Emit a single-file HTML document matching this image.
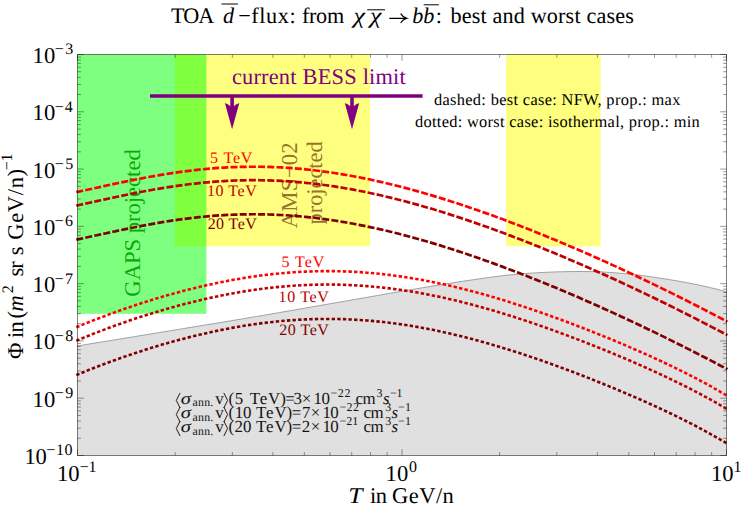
<!DOCTYPE html>
<html><head><meta charset="utf-8"><title>plot</title>
<style>html,body{margin:0;padding:0;background:#fff;overflow:hidden}svg text{font-family:"Liberation Serif",serif;white-space:pre;text-rendering:geometricPrecision}</style>
</head><body>
<svg width="742" height="509" viewBox="0 0 742 509" style="display:block">
<rect width="742" height="509" fill="#fff"/>
<path d="M77.00,346.00 L80.27,345.47 L83.53,344.94 L86.80,344.41 L90.07,343.87 L93.33,343.34 L96.60,342.81 L99.86,342.28 L103.13,341.75 L106.40,341.21 L109.66,340.68 L112.93,340.15 L116.20,339.61 L119.46,339.08 L122.73,338.55 L125.99,338.01 L129.26,337.48 L132.53,336.94 L135.79,336.41 L139.06,335.87 L142.33,335.34 L145.59,334.80 L148.86,334.27 L152.13,333.73 L155.39,333.20 L158.66,332.66 L161.92,332.13 L165.19,331.59 L168.46,331.05 L171.72,330.52 L174.99,329.98 L178.26,329.45 L181.52,328.91 L184.79,328.37 L188.06,327.84 L191.32,327.31 L194.59,326.77 L197.85,326.24 L201.12,325.70 L204.39,325.17 L207.65,324.63 L210.92,324.09 L214.19,323.56 L217.45,323.02 L220.72,322.48 L223.98,321.94 L227.25,321.40 L230.52,320.86 L233.78,320.32 L237.05,319.78 L240.32,319.23 L243.58,318.69 L246.85,318.14 L250.12,317.59 L253.38,317.04 L256.65,316.49 L259.91,315.94 L263.18,315.38 L266.45,314.82 L269.71,314.26 L272.98,313.70 L276.25,313.14 L279.51,312.58 L282.78,312.01 L286.05,311.45 L289.31,310.88 L292.58,310.31 L295.84,309.74 L299.11,309.17 L302.38,308.60 L305.64,308.03 L308.91,307.46 L312.18,306.89 L315.44,306.32 L318.71,305.75 L321.97,305.18 L325.24,304.61 L328.51,304.04 L331.77,303.47 L335.04,302.90 L338.31,302.33 L341.57,301.76 L344.84,301.19 L348.11,300.63 L351.37,300.06 L354.64,299.50 L357.90,298.93 L361.17,298.36 L364.44,297.79 L367.70,297.21 L370.97,296.64 L374.24,296.07 L377.50,295.50 L380.77,294.92 L384.04,294.35 L387.30,293.78 L390.57,293.21 L393.83,292.64 L397.10,292.07 L400.37,291.51 L403.63,290.94 L406.90,290.38 L410.17,289.82 L413.43,289.27 L416.70,288.71 L419.96,288.16 L423.23,287.62 L426.50,287.08 L429.76,286.54 L433.03,286.00 L436.30,285.47 L439.56,284.93 L442.83,284.40 L446.10,283.87 L449.36,283.35 L452.63,282.83 L455.89,282.32 L459.16,281.81 L462.43,281.32 L465.69,280.83 L468.96,280.35 L472.23,279.88 L475.49,279.40 L478.76,278.93 L482.03,278.45 L485.29,277.98 L488.56,277.52 L491.82,277.07 L495.09,276.63 L498.36,276.21 L501.62,275.81 L504.89,275.43 L508.16,275.08 L511.42,274.76 L514.69,274.46 L517.95,274.17 L521.22,273.89 L524.49,273.62 L527.75,273.37 L531.02,273.14 L534.29,272.93 L537.55,272.73 L540.82,272.56 L544.09,272.40 L547.35,272.24 L550.62,272.10 L553.88,271.98 L557.15,271.87 L560.42,271.79 L563.68,271.72 L566.95,271.65 L570.22,271.59 L573.48,271.54 L576.75,271.51 L580.02,271.50 L583.28,271.51 L586.55,271.55 L589.81,271.61 L593.08,271.67 L596.35,271.75 L599.61,271.86 L602.88,272.01 L606.15,272.20 L609.41,272.41 L612.68,272.64 L615.94,272.90 L619.21,273.17 L622.48,273.45 L625.74,273.74 L629.01,274.03 L632.28,274.34 L635.54,274.70 L638.81,275.09 L642.08,275.51 L645.34,275.95 L648.61,276.42 L651.87,276.90 L655.14,277.39 L658.41,277.89 L661.67,278.40 L664.94,278.90 L668.21,279.42 L671.47,279.96 L674.74,280.51 L678.01,281.08 L681.27,281.66 L684.54,282.26 L687.80,282.88 L691.07,283.51 L694.34,284.16 L697.60,284.82 L700.87,285.51 L704.14,286.22 L707.40,286.95 L710.67,287.71 L713.93,288.49 L717.20,289.29 L720.47,290.11 L723.73,290.95 L727.00,291.80 L726.5,455.5 L77.5,455.5 Z" fill="#e0e0e0"/>
<path d="M77.00,346.00 L80.27,345.47 L83.53,344.94 L86.80,344.41 L90.07,343.87 L93.33,343.34 L96.60,342.81 L99.86,342.28 L103.13,341.75 L106.40,341.21 L109.66,340.68 L112.93,340.15 L116.20,339.61 L119.46,339.08 L122.73,338.55 L125.99,338.01 L129.26,337.48 L132.53,336.94 L135.79,336.41 L139.06,335.87 L142.33,335.34 L145.59,334.80 L148.86,334.27 L152.13,333.73 L155.39,333.20 L158.66,332.66 L161.92,332.13 L165.19,331.59 L168.46,331.05 L171.72,330.52 L174.99,329.98 L178.26,329.45 L181.52,328.91 L184.79,328.37 L188.06,327.84 L191.32,327.31 L194.59,326.77 L197.85,326.24 L201.12,325.70 L204.39,325.17 L207.65,324.63 L210.92,324.09 L214.19,323.56 L217.45,323.02 L220.72,322.48 L223.98,321.94 L227.25,321.40 L230.52,320.86 L233.78,320.32 L237.05,319.78 L240.32,319.23 L243.58,318.69 L246.85,318.14 L250.12,317.59 L253.38,317.04 L256.65,316.49 L259.91,315.94 L263.18,315.38 L266.45,314.82 L269.71,314.26 L272.98,313.70 L276.25,313.14 L279.51,312.58 L282.78,312.01 L286.05,311.45 L289.31,310.88 L292.58,310.31 L295.84,309.74 L299.11,309.17 L302.38,308.60 L305.64,308.03 L308.91,307.46 L312.18,306.89 L315.44,306.32 L318.71,305.75 L321.97,305.18 L325.24,304.61 L328.51,304.04 L331.77,303.47 L335.04,302.90 L338.31,302.33 L341.57,301.76 L344.84,301.19 L348.11,300.63 L351.37,300.06 L354.64,299.50 L357.90,298.93 L361.17,298.36 L364.44,297.79 L367.70,297.21 L370.97,296.64 L374.24,296.07 L377.50,295.50 L380.77,294.92 L384.04,294.35 L387.30,293.78 L390.57,293.21 L393.83,292.64 L397.10,292.07 L400.37,291.51 L403.63,290.94 L406.90,290.38 L410.17,289.82 L413.43,289.27 L416.70,288.71 L419.96,288.16 L423.23,287.62 L426.50,287.08 L429.76,286.54 L433.03,286.00 L436.30,285.47 L439.56,284.93 L442.83,284.40 L446.10,283.87 L449.36,283.35 L452.63,282.83 L455.89,282.32 L459.16,281.81 L462.43,281.32 L465.69,280.83 L468.96,280.35 L472.23,279.88 L475.49,279.40 L478.76,278.93 L482.03,278.45 L485.29,277.98 L488.56,277.52 L491.82,277.07 L495.09,276.63 L498.36,276.21 L501.62,275.81 L504.89,275.43 L508.16,275.08 L511.42,274.76 L514.69,274.46 L517.95,274.17 L521.22,273.89 L524.49,273.62 L527.75,273.37 L531.02,273.14 L534.29,272.93 L537.55,272.73 L540.82,272.56 L544.09,272.40 L547.35,272.24 L550.62,272.10 L553.88,271.98 L557.15,271.87 L560.42,271.79 L563.68,271.72 L566.95,271.65 L570.22,271.59 L573.48,271.54 L576.75,271.51 L580.02,271.50 L583.28,271.51 L586.55,271.55 L589.81,271.61 L593.08,271.67 L596.35,271.75 L599.61,271.86 L602.88,272.01 L606.15,272.20 L609.41,272.41 L612.68,272.64 L615.94,272.90 L619.21,273.17 L622.48,273.45 L625.74,273.74 L629.01,274.03 L632.28,274.34 L635.54,274.70 L638.81,275.09 L642.08,275.51 L645.34,275.95 L648.61,276.42 L651.87,276.90 L655.14,277.39 L658.41,277.89 L661.67,278.40 L664.94,278.90 L668.21,279.42 L671.47,279.96 L674.74,280.51 L678.01,281.08 L681.27,281.66 L684.54,282.26 L687.80,282.88 L691.07,283.51 L694.34,284.16 L697.60,284.82 L700.87,285.51 L704.14,286.22 L707.40,286.95 L710.67,287.71 L713.93,288.49 L717.20,289.29 L720.47,290.11 L723.73,290.95 L727.00,291.80" fill="none" stroke="#8c8c8c" stroke-width="0.8"/>
<rect x="174.8" y="54.5" width="195.3" height="191.8" fill="#ffff00" fill-opacity="0.5"/>
<rect x="506.1" y="54.5" width="94.5" height="191.8" fill="#ffff00" fill-opacity="0.5"/>
<rect x="77.5" y="54.5" width="128.9" height="259.3" fill="#00ff00" fill-opacity="0.5"/>
<text transform="translate(139.90,296.68) rotate(-90)" font-size="22.60" letter-spacing="-0.006" fill="#00a600" fill-opacity="0.95">GAPS projected</text>
<text transform="translate(297.00,228.25) rotate(-90)" font-size="22.80" letter-spacing="0.155" fill="#7a4a20" fill-opacity="0.8">AMS−02</text>
<text transform="translate(321.60,224.47) rotate(-90)" font-size="22.40" letter-spacing="-0.019" fill="#7a4a20" fill-opacity="0.8">projected</text>
<path d="M76.30,192.15 L80.39,191.27 L84.49,190.39 L88.58,189.50 L92.68,188.61 L96.77,187.71 L100.87,186.82 L104.96,185.93 L109.06,185.04 L113.15,184.16 L117.25,183.29 L121.34,182.43 L125.44,181.57 L129.53,180.74 L133.63,179.91 L137.72,179.10 L141.82,178.31 L145.91,177.54 L150.01,176.79 L154.10,176.05 L158.20,175.34 L162.29,174.66 L166.39,173.99 L170.48,173.35 L174.58,172.74 L178.67,172.15 L182.77,171.59 L186.86,171.06 L190.96,170.56 L195.05,170.08 L199.15,169.64 L203.24,169.22 L207.34,168.84 L211.43,168.49 L215.53,168.17 L219.62,167.88 L223.72,167.62 L227.81,167.39 L231.91,167.20 L236.00,167.04 L240.10,166.91 L244.19,166.82 L248.29,166.75 L252.38,166.73 L256.48,166.73 L260.57,166.77 L264.67,166.84 L268.76,166.94 L272.86,167.08 L276.95,167.25 L281.05,167.45 L285.14,167.69 L289.24,167.96 L293.33,168.26 L297.43,168.59 L301.52,168.96 L305.62,169.35 L309.71,169.78 L313.81,170.24 L317.90,170.73 L322.00,171.25 L326.09,171.80 L330.19,172.38 L334.28,172.99 L338.38,173.63 L342.47,174.30 L346.57,175.00 L350.66,175.72 L354.76,176.48 L358.85,177.26 L362.95,178.07 L367.04,178.91 L371.14,179.77 L375.23,180.66 L379.33,181.57 L383.42,182.51 L387.52,183.47 L391.61,184.46 L395.71,185.48 L399.80,186.51 L403.90,187.57 L407.99,188.66 L412.09,189.76 L416.18,190.89 L420.28,192.04 L424.37,193.21 L428.47,194.41 L432.56,195.62 L436.66,196.85 L440.75,198.11 L444.85,199.38 L448.94,200.67 L453.04,201.99 L457.13,203.32 L461.23,204.67 L465.32,206.03 L469.42,207.42 L473.51,208.82 L477.61,210.24 L481.70,211.67 L485.80,213.12 L489.89,214.59 L493.99,216.08 L498.08,217.58 L502.18,219.09 L506.27,220.62 L510.37,222.17 L514.46,223.73 L518.56,225.30 L522.65,226.89 L526.75,228.49 L530.84,230.11 L534.94,231.74 L539.03,233.38 L543.13,235.04 L547.22,236.71 L551.32,238.39 L555.41,240.09 L559.51,241.80 L563.60,243.52 L567.70,245.25 L571.79,247.00 L575.89,248.75 L579.98,250.52 L584.08,252.31 L588.17,254.10 L592.27,255.90 L596.36,257.72 L600.46,259.55 L604.55,261.39 L608.65,263.24 L612.74,265.11 L616.84,266.98 L620.93,268.87 L625.03,270.77 L629.12,272.67 L633.22,274.59 L637.31,276.53 L641.41,278.47 L645.50,280.42 L649.60,282.39 L653.69,284.36 L657.79,286.35 L661.88,288.34 L665.98,290.35 L670.07,292.37 L674.17,294.40 L678.26,296.44 L682.36,298.49 L686.45,300.55 L690.55,302.62 L694.64,304.70 L698.74,306.80 L702.83,308.90 L706.93,311.01 L711.02,313.13 L715.12,315.26 L719.21,317.41 L723.31,319.56 L727.40,321.72" fill="none" stroke="#ff0000" stroke-width="2.7" stroke-dasharray="7,2.2"/>
<path d="M76.30,205.61 L80.39,204.73 L84.49,203.85 L88.58,202.96 L92.68,202.07 L96.77,201.18 L100.87,200.28 L104.96,199.39 L109.06,198.50 L113.15,197.62 L117.25,196.75 L121.34,195.89 L125.44,195.04 L129.53,194.20 L133.63,193.37 L137.72,192.57 L141.82,191.77 L145.91,191.00 L150.01,190.25 L154.10,189.52 L158.20,188.81 L162.29,188.12 L166.39,187.45 L170.48,186.82 L174.58,186.20 L178.67,185.62 L182.77,185.06 L186.86,184.52 L190.96,184.02 L195.05,183.55 L199.15,183.10 L203.24,182.69 L207.34,182.30 L211.43,181.95 L215.53,181.63 L219.62,181.34 L223.72,181.08 L227.81,180.85 L231.91,180.66 L236.00,180.50 L240.10,180.37 L244.19,180.28 L248.29,180.22 L252.38,180.19 L256.48,180.19 L260.57,180.23 L264.67,180.30 L268.76,180.40 L272.86,180.54 L276.95,180.71 L281.05,180.92 L285.14,181.15 L289.24,181.42 L293.33,181.72 L297.43,182.05 L301.52,182.42 L305.62,182.81 L309.71,183.24 L313.81,183.70 L317.90,184.19 L322.00,184.71 L326.09,185.26 L330.19,185.84 L334.28,186.45 L338.38,187.09 L342.47,187.76 L346.57,188.46 L350.66,189.19 L354.76,189.94 L358.85,190.72 L362.95,191.53 L367.04,192.37 L371.14,193.23 L375.23,194.12 L379.33,195.03 L383.42,195.97 L387.52,196.94 L391.61,197.93 L395.71,198.94 L399.80,199.98 L403.90,201.04 L407.99,202.12 L412.09,203.23 L416.18,204.35 L420.28,205.50 L424.37,206.68 L428.47,207.87 L432.56,209.08 L436.66,210.32 L440.75,211.57 L444.85,212.84 L448.94,214.14 L453.04,215.45 L457.13,216.78 L461.23,218.13 L465.32,219.49 L469.42,220.88 L473.51,222.28 L477.61,223.70 L481.70,225.13 L485.80,226.59 L489.89,228.05 L493.99,229.54 L498.08,231.04 L502.18,232.55 L506.27,234.08 L510.37,235.63 L514.46,237.19 L518.56,238.76 L522.65,240.35 L526.75,241.95 L530.84,243.57 L534.94,245.20 L539.03,246.84 L543.13,248.50 L547.22,250.17 L551.32,251.85 L555.41,253.55 L559.51,255.26 L563.60,256.98 L567.70,258.71 L571.79,260.46 L575.89,262.22 L579.98,263.99 L584.08,265.77 L588.17,267.56 L592.27,269.37 L596.36,271.18 L600.46,273.01 L604.55,274.85 L608.65,276.71 L612.74,278.57 L616.84,280.44 L620.93,282.33 L625.03,284.23 L629.12,286.14 L633.22,288.06 L637.31,289.99 L641.41,291.93 L645.50,293.88 L649.60,295.85 L653.69,297.82 L657.79,299.81 L661.88,301.81 L665.98,303.81 L670.07,305.83 L674.17,307.86 L678.26,309.90 L682.36,311.95 L686.45,314.01 L690.55,316.08 L694.64,318.17 L698.74,320.26 L702.83,322.36 L706.93,324.47 L711.02,326.59 L715.12,328.73 L719.21,330.87 L723.31,333.02 L727.40,335.18" fill="none" stroke="#c00000" stroke-width="2.7" stroke-dasharray="7,2.2"/>
<path d="M76.30,239.68 L80.39,238.81 L84.49,237.93 L88.58,237.04 L92.68,236.14 L96.77,235.25 L100.87,234.36 L104.96,233.47 L109.06,232.58 L113.15,231.70 L117.25,230.83 L121.34,229.96 L125.44,229.11 L129.53,228.27 L133.63,227.45 L137.72,226.64 L141.82,225.85 L145.91,225.08 L150.01,224.32 L154.10,223.59 L158.20,222.88 L162.29,222.19 L166.39,221.53 L170.48,220.89 L174.58,220.28 L178.67,219.69 L182.77,219.13 L186.86,218.60 L190.96,218.09 L195.05,217.62 L199.15,217.18 L203.24,216.76 L207.34,216.38 L211.43,216.02 L215.53,215.70 L219.62,215.41 L223.72,215.15 L227.81,214.93 L231.91,214.74 L236.00,214.57 L240.10,214.45 L244.19,214.35 L248.29,214.29 L252.38,214.26 L256.48,214.27 L260.57,214.30 L264.67,214.38 L268.76,214.48 L272.86,214.62 L276.95,214.79 L281.05,214.99 L285.14,215.23 L289.24,215.49 L293.33,215.79 L297.43,216.13 L301.52,216.49 L305.62,216.89 L309.71,217.32 L313.81,217.78 L317.90,218.27 L322.00,218.79 L326.09,219.34 L330.19,219.92 L334.28,220.53 L338.38,221.17 L342.47,221.84 L346.57,222.54 L350.66,223.26 L354.76,224.02 L358.85,224.80 L362.95,225.61 L367.04,226.44 L371.14,227.31 L375.23,228.19 L379.33,229.11 L383.42,230.05 L387.52,231.01 L391.61,232.00 L395.71,233.01 L399.80,234.05 L403.90,235.11 L407.99,236.19 L412.09,237.30 L416.18,238.43 L420.28,239.58 L424.37,240.75 L428.47,241.94 L432.56,243.16 L436.66,244.39 L440.75,245.64 L444.85,246.92 L448.94,248.21 L453.04,249.52 L457.13,250.85 L461.23,252.20 L465.32,253.57 L469.42,254.95 L473.51,256.35 L477.61,257.77 L481.70,259.21 L485.80,260.66 L489.89,262.13 L493.99,263.61 L498.08,265.11 L502.18,266.63 L506.27,268.16 L510.37,269.70 L514.46,271.26 L518.56,272.84 L522.65,274.43 L526.75,276.03 L530.84,277.65 L534.94,279.28 L539.03,280.92 L543.13,282.58 L547.22,284.25 L551.32,285.93 L555.41,287.62 L559.51,289.33 L563.60,291.05 L567.70,292.79 L571.79,294.53 L575.89,296.29 L579.98,298.06 L584.08,299.84 L588.17,301.64 L592.27,303.44 L596.36,305.26 L600.46,307.09 L604.55,308.93 L608.65,310.78 L612.74,312.64 L616.84,314.52 L620.93,316.41 L625.03,318.30 L629.12,320.21 L633.22,322.13 L637.31,324.06 L641.41,326.01 L645.50,327.96 L649.60,329.92 L653.69,331.90 L657.79,333.88 L661.88,335.88 L665.98,337.89 L670.07,339.91 L674.17,341.94 L678.26,343.98 L682.36,346.03 L686.45,348.09 L690.55,350.16 L694.64,352.24 L698.74,354.33 L702.83,356.44 L706.93,358.55 L711.02,360.67 L715.12,362.80 L719.21,364.94 L723.31,367.09 L727.40,369.25" fill="none" stroke="#800000" stroke-width="2.7" stroke-dasharray="7,2.2"/>
<path d="M76.30,327.28 L80.39,325.58 L84.49,323.91 L88.58,322.26 L92.68,320.64 L96.77,319.04 L100.87,317.47 L104.96,315.93 L109.06,314.40 L113.15,312.91 L117.25,311.43 L121.34,309.98 L125.44,308.56 L129.53,307.15 L133.63,305.77 L137.72,304.42 L141.82,303.08 L145.91,301.78 L150.01,300.49 L154.10,299.23 L158.20,297.99 L162.29,296.78 L166.39,295.59 L170.48,294.43 L174.58,293.29 L178.67,292.18 L182.77,291.09 L186.86,290.02 L190.96,288.99 L195.05,287.97 L199.15,286.99 L203.24,286.03 L207.34,285.10 L211.43,284.20 L215.53,283.32 L219.62,282.47 L223.72,281.65 L227.81,280.86 L231.91,280.09 L236.00,279.36 L240.10,278.66 L244.19,277.98 L248.29,277.34 L252.38,276.72 L256.48,276.14 L260.57,275.58 L264.67,275.06 L268.76,274.57 L272.86,274.11 L276.95,273.69 L281.05,273.29 L285.14,272.93 L289.24,272.60 L293.33,272.31 L297.43,272.04 L301.52,271.81 L305.62,271.62 L309.71,271.45 L313.81,271.32 L317.90,271.22 L322.00,271.16 L326.09,271.13 L330.19,271.14 L334.28,271.17 L338.38,271.25 L342.47,271.35 L346.57,271.49 L350.66,271.67 L354.76,271.87 L358.85,272.11 L362.95,272.39 L367.04,272.70 L371.14,273.04 L375.23,273.41 L379.33,273.82 L383.42,274.26 L387.52,274.73 L391.61,275.23 L395.71,275.77 L399.80,276.34 L403.90,276.94 L407.99,277.57 L412.09,278.23 L416.18,278.92 L420.28,279.65 L424.37,280.40 L428.47,281.18 L432.56,281.99 L436.66,282.83 L440.75,283.70 L444.85,284.60 L448.94,285.52 L453.04,286.47 L457.13,287.45 L461.23,288.45 L465.32,289.48 L469.42,290.54 L473.51,291.62 L477.61,292.72 L481.70,293.85 L485.80,295.00 L489.89,296.17 L493.99,297.37 L498.08,298.59 L502.18,299.83 L506.27,301.09 L510.37,302.37 L514.46,303.67 L518.56,304.99 L522.65,306.33 L526.75,307.69 L530.84,309.07 L534.94,310.47 L539.03,311.88 L543.13,313.31 L547.22,314.76 L551.32,316.22 L555.41,317.70 L559.51,319.20 L563.60,320.71 L567.70,322.23 L571.79,323.77 L575.89,325.33 L579.98,326.90 L584.08,328.49 L588.17,330.09 L592.27,331.70 L596.36,333.33 L600.46,334.98 L604.55,336.63 L608.65,338.31 L612.74,339.99 L616.84,341.70 L620.93,343.42 L625.03,345.15 L629.12,346.90 L633.22,348.67 L637.31,350.45 L641.41,352.25 L645.50,354.07 L649.60,355.91 L653.69,357.77 L657.79,359.65 L661.88,361.55 L665.98,363.47 L670.07,365.42 L674.17,367.39 L678.26,369.38 L682.36,371.41 L686.45,373.46 L690.55,375.54 L694.64,377.66 L698.74,379.80 L702.83,381.99 L706.93,384.21 L711.02,386.47 L715.12,388.77 L719.21,391.11 L723.31,393.50 L727.40,395.94" fill="none" stroke="#ff0000" stroke-width="2.6" stroke-dasharray="3.4,2.2"/>
<path d="M76.30,340.70 L80.39,339.00 L84.49,337.33 L88.58,335.68 L92.68,334.06 L96.77,332.47 L100.87,330.89 L104.96,329.35 L109.06,327.83 L113.15,326.33 L117.25,324.85 L121.34,323.40 L125.44,321.98 L129.53,320.57 L133.63,319.19 L137.72,317.84 L141.82,316.51 L145.91,315.20 L150.01,313.91 L154.10,312.65 L158.20,311.41 L162.29,310.20 L166.39,309.01 L170.48,307.85 L174.58,306.71 L178.67,305.60 L182.77,304.51 L186.86,303.44 L190.96,302.41 L195.05,301.40 L199.15,300.41 L203.24,299.45 L207.34,298.52 L211.43,297.62 L215.53,296.74 L219.62,295.89 L223.72,295.07 L227.81,294.28 L231.91,293.51 L236.00,292.78 L240.10,292.08 L244.19,291.40 L248.29,290.76 L252.38,290.14 L256.48,289.56 L260.57,289.01 L264.67,288.48 L268.76,287.99 L272.86,287.54 L276.95,287.11 L281.05,286.71 L285.14,286.35 L289.24,286.02 L293.33,285.73 L297.43,285.46 L301.52,285.23 L305.62,285.04 L309.71,284.87 L313.81,284.74 L317.90,284.65 L322.00,284.58 L326.09,284.55 L330.19,284.56 L334.28,284.60 L338.38,284.67 L342.47,284.77 L346.57,284.91 L350.66,285.09 L354.76,285.29 L358.85,285.54 L362.95,285.81 L367.04,286.12 L371.14,286.46 L375.23,286.83 L379.33,287.24 L383.42,287.68 L387.52,288.15 L391.61,288.66 L395.71,289.19 L399.80,289.76 L403.90,290.36 L407.99,290.99 L412.09,291.65 L416.18,292.34 L420.28,293.07 L424.37,293.82 L428.47,294.60 L432.56,295.41 L436.66,296.25 L440.75,297.12 L444.85,298.02 L448.94,298.94 L453.04,299.89 L457.13,300.87 L461.23,301.87 L465.32,302.90 L469.42,303.96 L473.51,305.04 L477.61,306.14 L481.70,307.27 L485.80,308.42 L489.89,309.60 L493.99,310.79 L498.08,312.01 L502.18,313.25 L506.27,314.51 L510.37,315.79 L514.46,317.09 L518.56,318.42 L522.65,319.76 L526.75,321.12 L530.84,322.49 L534.94,323.89 L539.03,325.30 L543.13,326.73 L547.22,328.18 L551.32,329.64 L555.41,331.12 L559.51,332.62 L563.60,334.13 L567.70,335.65 L571.79,337.20 L575.89,338.75 L579.98,340.32 L584.08,341.91 L588.17,343.51 L592.27,345.12 L596.36,346.75 L600.46,348.40 L604.55,350.05 L608.65,351.73 L612.74,353.42 L616.84,355.12 L620.93,356.84 L625.03,358.57 L629.12,360.32 L633.22,362.09 L637.31,363.87 L641.41,365.67 L645.50,367.49 L649.60,369.33 L653.69,371.19 L657.79,373.07 L661.88,374.97 L665.98,376.89 L670.07,378.84 L674.17,380.81 L678.26,382.80 L682.36,384.83 L686.45,386.88 L690.55,388.96 L694.64,391.08 L698.74,393.22 L702.83,395.41 L706.93,397.63 L711.02,399.89 L715.12,402.19 L719.21,404.53 L723.31,406.93 L727.40,409.37" fill="none" stroke="#c00000" stroke-width="2.6" stroke-dasharray="3.4,2.2"/>
<path d="M76.30,375.09 L80.39,373.39 L84.49,371.72 L88.58,370.07 L92.68,368.45 L96.77,366.85 L100.87,365.28 L104.96,363.74 L109.06,362.21 L113.15,360.72 L117.25,359.24 L121.34,357.79 L125.44,356.36 L129.53,354.96 L133.63,353.58 L137.72,352.23 L141.82,350.89 L145.91,349.59 L150.01,348.30 L154.10,347.04 L158.20,345.80 L162.29,344.59 L166.39,343.40 L170.48,342.24 L174.58,341.10 L178.67,339.98 L182.77,338.90 L186.86,337.83 L190.96,336.79 L195.05,335.78 L199.15,334.80 L203.24,333.84 L207.34,332.91 L211.43,332.00 L215.53,331.13 L219.62,330.28 L223.72,329.46 L227.81,328.67 L231.91,327.90 L236.00,327.17 L240.10,326.46 L244.19,325.79 L248.29,325.14 L252.38,324.53 L256.48,323.95 L260.57,323.39 L264.67,322.87 L268.76,322.38 L272.86,321.92 L276.95,321.50 L281.05,321.10 L285.14,320.74 L289.24,320.41 L293.33,320.11 L297.43,319.85 L301.52,319.62 L305.62,319.42 L309.71,319.26 L313.81,319.13 L317.90,319.03 L322.00,318.97 L326.09,318.94 L330.19,318.95 L334.28,318.98 L338.38,319.06 L342.47,319.16 L346.57,319.30 L350.66,319.48 L354.76,319.68 L358.85,319.92 L362.95,320.20 L367.04,320.50 L371.14,320.85 L375.23,321.22 L379.33,321.63 L383.42,322.07 L387.52,322.54 L391.61,323.04 L395.71,323.58 L399.80,324.15 L403.90,324.75 L407.99,325.38 L412.09,326.04 L416.18,326.73 L420.28,327.45 L424.37,328.21 L428.47,328.99 L432.56,329.80 L436.66,330.64 L440.75,331.51 L444.85,332.41 L448.94,333.33 L453.04,334.28 L457.13,335.26 L461.23,336.26 L465.32,337.29 L469.42,338.35 L473.51,339.43 L477.61,340.53 L481.70,341.66 L485.80,342.81 L489.89,343.98 L493.99,345.18 L498.08,346.40 L502.18,347.64 L506.27,348.90 L510.37,350.18 L514.46,351.48 L518.56,352.80 L522.65,354.14 L526.75,355.50 L530.84,356.88 L534.94,358.28 L539.03,359.69 L543.13,361.12 L547.22,362.57 L551.32,364.03 L555.41,365.51 L559.51,367.00 L563.60,368.52 L567.70,370.04 L571.79,371.58 L575.89,373.14 L579.98,374.71 L584.08,376.30 L588.17,377.90 L592.27,379.51 L596.36,381.14 L600.46,382.78 L604.55,384.44 L608.65,386.12 L612.74,387.80 L616.84,389.51 L620.93,391.22 L625.03,392.96 L629.12,394.71 L633.22,396.48 L637.31,398.26 L641.41,400.06 L645.50,401.88 L649.60,403.72 L653.69,405.58 L657.79,407.46 L661.88,409.36 L665.98,411.28 L670.07,413.22 L674.17,415.19 L678.26,417.19 L682.36,419.21 L686.45,421.27 L690.55,423.35 L694.64,425.46 L698.74,427.61 L702.83,429.80 L706.93,432.02 L711.02,434.28 L715.12,436.58 L719.21,438.92 L723.31,441.31 L727.40,443.75" fill="none" stroke="#800000" stroke-width="2.6" stroke-dasharray="3.4,2.2"/>
<text x="210.12" y="162.50" font-size="16.00" letter-spacing="0.812" fill="#ff0000">5 TeV</text>
<text x="206.93" y="196.20" font-size="16.00" letter-spacing="0.550" fill="#c00000">10 TeV</text>
<text x="207.68" y="229.40" font-size="16.00" letter-spacing="0.400" fill="#800000">20 TeV</text>
<text x="281.52" y="267.10" font-size="16.00" letter-spacing="0.938" fill="#ff0000">5 TeV</text>
<text x="278.52" y="301.50" font-size="16.00" letter-spacing="0.650" fill="#c00000">10 TeV</text>
<text x="279.27" y="334.70" font-size="16.00" letter-spacing="0.500" fill="#800000">20 TeV</text>
<line x1="150" y1="96" x2="422.6" y2="96" stroke="#800080" stroke-width="3.7"/>
<line x1="232.1" y1="96" x2="232.1" y2="108" stroke="#800080" stroke-width="3.6"/>
<path d="M232.10,129.2 L224.90,102.9 Q228.70,104.3 230.40,106.2 L233.80,106.2 Q235.50,104.3 239.30,102.9 Z" fill="#800080"/>
<line x1="352.0" y1="96" x2="352.0" y2="108" stroke="#800080" stroke-width="3.6"/>
<path d="M352.00,129.2 L344.80,102.9 Q348.60,104.3 350.30,106.2 L353.70,106.2 Q355.40,104.3 359.20,102.9 Z" fill="#800080"/>
<text x="231.88" y="83.70" font-size="22.40" letter-spacing="0.203" fill="#800080">current BESS limit</text>
<text x="433.90" y="104.70" font-size="16.40" letter-spacing="0.327" fill="#000">dashed: best case: NFW, prop.: max</text>
<text x="415.00" y="126.50" font-size="16.40" letter-spacing="0.295" fill="#000">dotted: worst case: isothermal, prop.: min</text>
<rect x="77.5" y="54.5" width="649" height="401" fill="none" stroke="#000" stroke-opacity="0.5" stroke-width="1"/>
<path d="M77.50,455.5 v-6.3 M77.50,54.5 v6.3 M175.18,455.5 v-3.4 M175.18,54.5 v3.4 M232.33,455.5 v-3.4 M232.33,54.5 v3.4 M272.87,455.5 v-3.4 M272.87,54.5 v3.4 M304.32,455.5 v-3.4 M304.32,54.5 v3.4 M330.01,455.5 v-3.4 M330.01,54.5 v3.4 M351.73,455.5 v-3.4 M351.73,54.5 v3.4 M370.55,455.5 v-3.4 M370.55,54.5 v3.4 M387.15,455.5 v-3.4 M387.15,54.5 v3.4 M402.00,455.5 v-6.3 M402.00,54.5 v6.3 M499.68,455.5 v-3.4 M499.68,54.5 v3.4 M556.83,455.5 v-3.4 M556.83,54.5 v3.4 M597.37,455.5 v-3.4 M597.37,54.5 v3.4 M628.82,455.5 v-3.4 M628.82,54.5 v3.4 M654.51,455.5 v-3.4 M654.51,54.5 v3.4 M676.23,455.5 v-3.4 M676.23,54.5 v3.4 M695.05,455.5 v-3.4 M695.05,54.5 v3.4 M711.65,455.5 v-3.4 M711.65,54.5 v3.4 M726.50,455.5 v-6.3 M726.50,54.5 v6.3 M77.5,455.50 h6.3 M726.5,455.50 h-6.3 M77.5,438.26 h3.4 M726.5,438.26 h-3.4 M77.5,428.17 h3.4 M726.5,428.17 h-3.4 M77.5,421.01 h3.4 M726.5,421.01 h-3.4 M77.5,415.46 h3.4 M726.5,415.46 h-3.4 M77.5,410.92 h3.4 M726.5,410.92 h-3.4 M77.5,407.09 h3.4 M726.5,407.09 h-3.4 M77.5,403.77 h3.4 M726.5,403.77 h-3.4 M77.5,400.84 h3.4 M726.5,400.84 h-3.4 M77.5,398.21 h6.3 M726.5,398.21 h-6.3 M77.5,380.97 h3.4 M726.5,380.97 h-3.4 M77.5,370.88 h3.4 M726.5,370.88 h-3.4 M77.5,363.72 h3.4 M726.5,363.72 h-3.4 M77.5,358.17 h3.4 M726.5,358.17 h-3.4 M77.5,353.64 h3.4 M726.5,353.64 h-3.4 M77.5,349.80 h3.4 M726.5,349.80 h-3.4 M77.5,346.48 h3.4 M726.5,346.48 h-3.4 M77.5,343.55 h3.4 M726.5,343.55 h-3.4 M77.5,340.93 h6.3 M726.5,340.93 h-6.3 M77.5,323.68 h3.4 M726.5,323.68 h-3.4 M77.5,313.60 h3.4 M726.5,313.60 h-3.4 M77.5,306.44 h3.4 M726.5,306.44 h-3.4 M77.5,300.89 h3.4 M726.5,300.89 h-3.4 M77.5,296.35 h3.4 M726.5,296.35 h-3.4 M77.5,292.52 h3.4 M726.5,292.52 h-3.4 M77.5,289.19 h3.4 M726.5,289.19 h-3.4 M77.5,286.26 h3.4 M726.5,286.26 h-3.4 M77.5,283.64 h6.3 M726.5,283.64 h-6.3 M77.5,266.40 h3.4 M726.5,266.40 h-3.4 M77.5,256.31 h3.4 M726.5,256.31 h-3.4 M77.5,249.15 h3.4 M726.5,249.15 h-3.4 M77.5,243.60 h3.4 M726.5,243.60 h-3.4 M77.5,239.07 h3.4 M726.5,239.07 h-3.4 M77.5,235.23 h3.4 M726.5,235.23 h-3.4 M77.5,231.91 h3.4 M726.5,231.91 h-3.4 M77.5,228.98 h3.4 M726.5,228.98 h-3.4 M77.5,226.36 h6.3 M726.5,226.36 h-6.3 M77.5,209.11 h3.4 M726.5,209.11 h-3.4 M77.5,199.02 h3.4 M726.5,199.02 h-3.4 M77.5,191.87 h3.4 M726.5,191.87 h-3.4 M77.5,186.32 h3.4 M726.5,186.32 h-3.4 M77.5,181.78 h3.4 M726.5,181.78 h-3.4 M77.5,177.95 h3.4 M726.5,177.95 h-3.4 M77.5,174.62 h3.4 M726.5,174.62 h-3.4 M77.5,171.69 h3.4 M726.5,171.69 h-3.4 M77.5,169.07 h6.3 M726.5,169.07 h-6.3 M77.5,151.83 h3.4 M726.5,151.83 h-3.4 M77.5,141.74 h3.4 M726.5,141.74 h-3.4 M77.5,134.58 h3.4 M726.5,134.58 h-3.4 M77.5,129.03 h3.4 M726.5,129.03 h-3.4 M77.5,124.49 h3.4 M726.5,124.49 h-3.4 M77.5,120.66 h3.4 M726.5,120.66 h-3.4 M77.5,117.34 h3.4 M726.5,117.34 h-3.4 M77.5,114.41 h3.4 M726.5,114.41 h-3.4 M77.5,111.79 h6.3 M726.5,111.79 h-6.3 M77.5,94.54 h3.4 M726.5,94.54 h-3.4 M77.5,84.45 h3.4 M726.5,84.45 h-3.4 M77.5,77.30 h3.4 M726.5,77.30 h-3.4 M77.5,71.74 h3.4 M726.5,71.74 h-3.4 M77.5,67.21 h3.4 M726.5,67.21 h-3.4 M77.5,63.37 h3.4 M726.5,63.37 h-3.4 M77.5,60.05 h3.4 M726.5,60.05 h-3.4 M77.5,57.12 h3.4 M726.5,57.12 h-3.4 M77.5,54.50 h6.3 M726.5,54.50 h-6.3" fill="none" stroke="#000" stroke-opacity="0.45" stroke-width="0.9"/>
<text x="24.50" y="464.00" font-size="22.60" letter-spacing="-0.350" fill="#000">10</text>
<text x="46.35" y="455.40" font-size="16.00" letter-spacing="0.625" fill="#000">−10</text>
<text x="32.50" y="406.71" font-size="22.60" letter-spacing="0.250" fill="#000">10</text>
<text x="54.85" y="398.11" font-size="16.00" letter-spacing="1.475" fill="#000">−9</text>
<text x="32.50" y="349.43" font-size="22.60" letter-spacing="0.250" fill="#000">10</text>
<text x="54.85" y="340.83" font-size="16.00" letter-spacing="1.350" fill="#000">−8</text>
<text x="32.50" y="292.14" font-size="22.60" letter-spacing="0.250" fill="#000">10</text>
<text x="54.85" y="283.54" font-size="16.00" letter-spacing="1.225" fill="#000">−7</text>
<text x="32.50" y="234.86" font-size="22.60" letter-spacing="0.250" fill="#000">10</text>
<text x="54.85" y="226.26" font-size="16.00" letter-spacing="1.225" fill="#000">−6</text>
<text x="32.50" y="177.57" font-size="22.60" letter-spacing="0.250" fill="#000">10</text>
<text x="54.85" y="168.97" font-size="16.00" letter-spacing="1.475" fill="#000">−5</text>
<text x="32.50" y="120.29" font-size="22.60" letter-spacing="0.250" fill="#000">10</text>
<text x="54.85" y="111.69" font-size="16.00" letter-spacing="0.975" fill="#000">−4</text>
<text x="32.50" y="63.00" font-size="22.60" letter-spacing="0.250" fill="#000">10</text>
<text x="54.85" y="54.40" font-size="16.00" letter-spacing="1.475" fill="#000">−3</text>
<text x="56.90" y="480.60" font-size="22.60" letter-spacing="0.050" fill="#000">10</text>
<text x="79.75" y="471.70" font-size="16.00" letter-spacing="-0.175" fill="#000">−1</text>
<text x="385.60" y="480.60" font-size="22.60" letter-spacing="0.050" fill="#000">10</text>
<text x="408.98" y="471.70" font-size="16.00" fill="#000">0</text>
<text x="711.00" y="480.60" font-size="22.60" letter-spacing="-0.050" fill="#000">10</text>
<text x="733.42" y="471.70" font-size="16.00" fill="#000">1</text>
<text transform="translate(348.19,502.90) scale(1.140,1)" font-size="22.50" font-style="italic" fill="#000">T</text>
<text x="370.10" y="502.90" font-size="22.50" letter-spacing="-0.550" fill="#000">in</text>
<text x="392.12" y="502.90" font-size="22.50" letter-spacing="0.431" fill="#000">GeV/n</text>
<g transform="translate(22.8,0) rotate(-90)">
<text x="-359.02" y="0.00" font-size="22.50" fill="#000">Φ</text>
<text x="-338.10" y="0.00" font-size="22.50" letter-spacing="-0.550" fill="#000">in</text>
<text x="-318.60" y="0.00" font-size="22.50" fill="#000">(</text>
<text x="-311.55" y="0.00" font-size="22.50" font-style="italic" fill="#000">m</text>
<text x="-293.23" y="-10.20" font-size="16.00" fill="#000">2</text>
<text x="-276.57" y="0.00" font-size="22.50" letter-spacing="-1.050" fill="#000">sr</text>
<text x="-255.28" y="0.00" font-size="22.50" fill="#000">s</text>
<text x="-239.78" y="0.00" font-size="22.50" letter-spacing="0.675" fill="#000">GeV/n)</text>
<text x="-170.15" y="-10.60" font-size="16.00" letter-spacing="-0.275" fill="#000">−1</text>
</g>
<text x="171.12" y="23.40" font-size="22.20" letter-spacing="-1.025" fill="#000">TOA</text>
<text x="223.07" y="23.40" font-size="22.20" font-style="italic" fill="#000">d</text>
<path d="M221.5,4 H237.9" stroke="#000" stroke-width="1"/>
<text x="238.28" y="23.40" font-size="22.20" fill="#000">−</text>
<text x="251.28" y="23.40" font-size="22.20" letter-spacing="0.650" fill="#000">flux:</text>
<text x="301.88" y="23.40" font-size="22.20" letter-spacing="-0.283" fill="#000">from</text>
<text transform="translate(353.55,23.40) scale(1.170,1)" font-size="22.20" font-style="italic" fill="#000">χ</text>
<text transform="translate(369.95,23.40) scale(1.170,1)" font-size="22.20" font-style="italic" fill="#000">χ</text>
<path d="M367.2,9.8 H385" stroke="#000" stroke-width="1"/>
<path d="M389.3,18.3 H406.2 M400.6,13.6 C402,16 404,17.5 406.9,18.3 C404,19.1 402,20.6 400.6,23" fill="none" stroke="#000" stroke-width="1.15"/>
<text x="412.15" y="23.40" font-size="22.20" font-style="italic" fill="#000">b</text>
<text x="423.35" y="23.40" font-size="22.20" font-style="italic" fill="#000">b</text>
<path d="M423.7,4.8 H438.8" stroke="#000" stroke-width="1"/>
<text x="435.85" y="23.40" font-size="22.20" fill="#000">:</text>
<text x="450.40" y="23.40" font-size="22.20" letter-spacing="0.154" fill="#000">best and worst cases</text>
<text transform="translate(180.69,404.20) scale(1.220,1)" font-size="16.90" font-style="italic" fill="#141414">σ</text>
<text x="192.62" y="406.40" font-size="11.80" letter-spacing="0.242" fill="#141414">ann.</text>
<text x="215.30" y="404.20" font-size="16.90" fill="#141414">v</text>
<text x="228.55" y="404.20" font-size="16.90" fill="#141414">(</text>
<text x="234.80" y="404.20" font-size="16.90" fill="#141414">5</text>
<text x="249.75" y="404.20" font-size="16.90" letter-spacing="0.750" fill="#141414">TeV</text>
<text x="280.30" y="404.20" font-size="16.90" fill="#141414">)</text>
<text x="285.15" y="404.20" font-size="16.90" fill="#141414">=</text>
<text x="293.55" y="404.20" font-size="16.90" fill="#141414">3</text>
<text x="301.82" y="404.20" font-size="16.90" fill="#141414">×</text>
<text x="313.50" y="404.20" font-size="16.90" letter-spacing="-0.550" fill="#141414">10</text>
<text x="330.38" y="397.10" font-size="12.00" letter-spacing="0.700" fill="#141414">−22</text>
<text x="355.48" y="404.20" font-size="16.90" letter-spacing="-0.350" fill="#141414">cm</text>
<text x="376.40" y="397.10" font-size="12.00" fill="#141414">3</text>
<text x="382.88" y="404.20" font-size="16.90" font-style="italic" fill="#141414">s</text>
<text x="389.98" y="397.10" font-size="12.00" letter-spacing="-0.200" fill="#141414">−1</text>
<path d="M180.1,392.90 L176.3,400.40 L180.1,408.00 M223.8,392.90 L227.6,400.40 L223.8,408.00" fill="none" stroke="#141414" stroke-width="0.95"/>
<text transform="translate(180.69,418.30) scale(1.220,1)" font-size="16.90" font-style="italic" fill="#141414">σ</text>
<text x="192.62" y="420.50" font-size="11.80" letter-spacing="0.242" fill="#141414">ann.</text>
<text x="215.30" y="418.30" font-size="16.90" fill="#141414">v</text>
<text x="228.55" y="418.30" font-size="16.90" fill="#141414">(</text>
<text x="234.80" y="418.30" font-size="16.90" letter-spacing="-0.150" fill="#141414">10</text>
<text x="256.05" y="418.30" font-size="16.90" letter-spacing="0.850" fill="#141414">TeV</text>
<text x="286.60" y="418.30" font-size="16.90" fill="#141414">)</text>
<text x="291.65" y="418.30" font-size="16.90" fill="#141414">=</text>
<text x="302.07" y="418.30" font-size="16.90" fill="#141414">7</text>
<text x="310.82" y="418.30" font-size="16.90" fill="#141414">×</text>
<text x="322.50" y="418.30" font-size="16.90" letter-spacing="-0.650" fill="#141414">10</text>
<text x="339.38" y="411.20" font-size="12.00" letter-spacing="0.450" fill="#141414">−22</text>
<text x="363.57" y="418.30" font-size="16.90" letter-spacing="-0.450" fill="#141414">cm</text>
<text x="385.30" y="411.20" font-size="12.00" fill="#141414">3</text>
<text x="391.38" y="418.30" font-size="16.90" font-style="italic" fill="#141414">s</text>
<text x="397.98" y="411.20" font-size="12.00" letter-spacing="0.300" fill="#141414">−1</text>
<path d="M180.1,407.00 L176.3,414.50 L180.1,422.10 M223.8,407.00 L227.6,414.50 L223.8,422.10" fill="none" stroke="#141414" stroke-width="0.95"/>
<text transform="translate(180.69,432.30) scale(1.220,1)" font-size="16.90" font-style="italic" fill="#141414">σ</text>
<text x="192.62" y="434.50" font-size="11.80" letter-spacing="0.242" fill="#141414">ann.</text>
<text x="215.30" y="432.30" font-size="16.90" fill="#141414">v</text>
<text x="228.55" y="432.30" font-size="16.90" fill="#141414">(</text>
<text x="234.45" y="432.30" font-size="16.90" letter-spacing="0.200" fill="#141414">20</text>
<text x="256.05" y="432.30" font-size="16.90" letter-spacing="0.850" fill="#141414">TeV</text>
<text x="286.60" y="432.30" font-size="16.90" fill="#141414">)</text>
<text x="291.65" y="432.30" font-size="16.90" fill="#141414">=</text>
<text x="301.85" y="432.30" font-size="16.90" fill="#141414">2</text>
<text x="310.82" y="432.30" font-size="16.90" fill="#141414">×</text>
<text x="322.50" y="432.30" font-size="16.90" letter-spacing="-0.650" fill="#141414">10</text>
<text x="339.38" y="425.20" font-size="12.00" letter-spacing="0.050" fill="#141414">−21</text>
<text x="363.57" y="432.30" font-size="16.90" letter-spacing="-0.450" fill="#141414">cm</text>
<text x="385.30" y="425.20" font-size="12.00" fill="#141414">3</text>
<text x="391.38" y="432.30" font-size="16.90" font-style="italic" fill="#141414">s</text>
<text x="397.98" y="425.20" font-size="12.00" letter-spacing="0.300" fill="#141414">−1</text>
<path d="M180.1,421.00 L176.3,428.50 L180.1,436.10 M223.8,421.00 L227.6,428.50 L223.8,436.10" fill="none" stroke="#141414" stroke-width="0.95"/>
</svg>
</body></html>
